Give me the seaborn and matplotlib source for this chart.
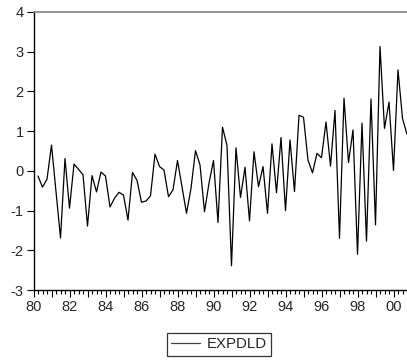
import numpy as np
import pandas as pd
import matplotlib
matplotlib.use("Agg")
import matplotlib.pyplot as plt
import matplotlib.ticker as mticker
import seaborn as sns

# Quarterly series, 1980Q2 .. 2000Q4
start_year = 1980
start_quarter = 2
series_name = "EXPDLD"
values = [
    -0.13, -0.41, -0.21, 0.65, -0.52, -1.69, 0.31, -0.94, 0.17, 0.04,
    -0.10, -1.39, -0.12, -0.53, -0.03, -0.13, -0.91, -0.69, -0.54, -0.61,
    -1.24, -0.04, -0.24, -0.79, -0.76, -0.63, 0.42, 0.11, 0.02, -0.65,
    -0.48, 0.26, -0.40, -1.07, -0.44, 0.51, 0.15, -1.03, -0.31, 0.26,
    -1.30, 1.10, 0.64, -2.39, 0.58, -0.67, 0.09, -1.26, 0.48, -0.40,
    0.11, -1.07, 0.68, -0.55, 0.84, -1.00, 0.78, -0.52, 1.40, 1.35,
    0.27, -0.05, 0.44, 0.33, 1.23, 0.12, 1.52, -1.70, 1.83, 0.21,
    1.03, -2.10, 1.20, -1.77, 1.81, -1.36, 3.13, 1.07, 1.73, 0.01,
    2.54, 1.32, 0.92,
]
y_ticks = [-3, -2, -1, 0, 1, 2, 3, 4]

n = len(values)
t = start_year + (start_quarter - 1) / 4 + np.arange(n) / 4
df = pd.DataFrame({"t": t, series_name: values})

sns.set_style("ticks")
plt.rcParams["font.family"] = ["Liberation Sans", "DejaVu Sans"]
plt.rcParams["font.size"] = 10.5

W, H = 407, 362
fig = plt.figure(figsize=(W / 100, H / 100), dpi=100)
left, right, top, bottom = 33.5, 407.0, 12.0, 290.0
ax = fig.add_axes([left / W, (H - bottom) / H, (right - left) / W, (bottom - top) / H])

sns.lineplot(data=df, x="t", y=series_name, ax=ax, color="black", linewidth=0.9,
             label=series_name, legend=False)

ax.set_xlim(1980, 2000.75)
ax.set_ylim(-3, 4)
ax.set_xlabel("")
ax.set_ylabel("")

ax.xaxis.set_major_locator(mticker.MultipleLocator(1))
ax.xaxis.set_minor_locator(mticker.MultipleLocator(0.25))
ax.xaxis.set_major_formatter(
    mticker.FuncFormatter(lambda v, p: f"{int(round(v)) % 100:02d}" if int(round(v)) % 2 == 0 else ""))
ax.set_yticks(y_ticks)
ax.set_yticklabels([str(v) for v in y_ticks])

ax.tick_params(axis="x", which="major", direction="out", length=5, width=0.8, color="black",
               labelsize=10.5, pad=2)
ax.tick_params(axis="x", which="minor", direction="out", length=3, width=0.8, color="black")
ax.tick_params(axis="y", which="major", direction="out", length=5, width=0.8, color="black",
               labelsize=10.5, pad=2)

for s in ["left", "bottom"]:
    ax.spines[s].set_color("black")
    ax.spines[s].set_linewidth(1.0)
ax.spines["top"].set_visible(True)
ax.spines["top"].set_color("#808080")
ax.spines["top"].set_linewidth(1.2)
ax.spines["right"].set_visible(False)

handles, labels = ax.get_legend_handles_labels()
leg = fig.legend(handles, labels, loc="center", bbox_to_anchor=(219 / W, 1 - 344 / H),
                 frameon=True, fancybox=False, shadow=False, fontsize=10.8,
                 handlelength=1.9, handletextpad=0.45, borderpad=0.3, borderaxespad=0)
leg.get_frame().set_edgecolor("black")
leg.get_frame().set_linewidth(0.9)
for line in leg.get_lines():
    line.set_color("#404040")
    line.set_linewidth(0.9)

fig.savefig("out.png", dpi=100)
